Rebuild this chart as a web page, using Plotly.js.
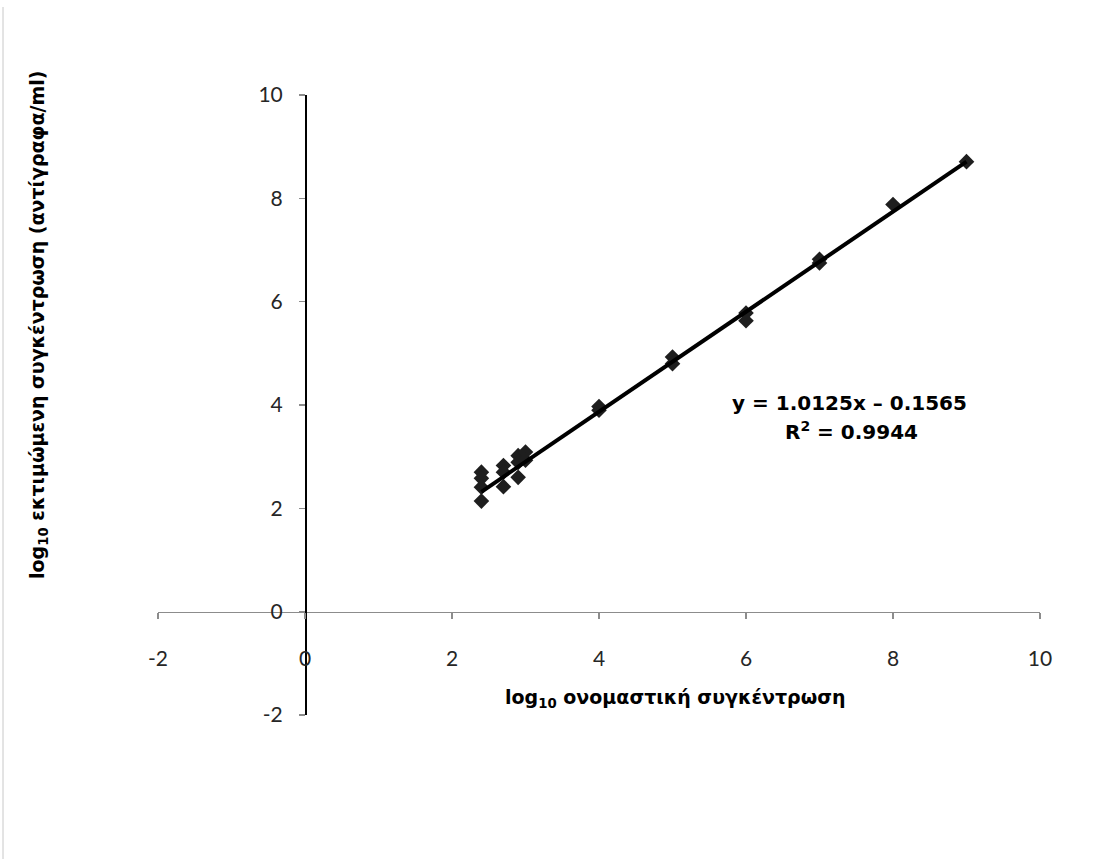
<!DOCTYPE html>
<html>
<head>
<meta charset="utf-8">
<script src="https://cdn.plot.ly/plotly-3.0.1.min.js"></script>
<style>html,body{margin:0;padding:0;background:#fff;}#chart{width:1108px;height:859px;}</style>
</head>
<body>
<div id="chart"></div>
<script>
// Data
const nominalLog = [2.4, 2.4, 2.4, 2.4, 2.7, 2.7, 2.7, 2.9, 2.9, 2.9, 3.0, 3.0, 4, 4, 5, 5, 6, 6, 7, 7, 8, 9];
const estimatedLog = [2.70, 2.58, 2.41, 2.14, 2.83, 2.70, 2.42, 3.02, 2.89, 2.60, 3.09, 2.93, 3.97, 3.90, 4.93, 4.80, 5.78, 5.63, 6.82, 6.75, 7.88, 8.71];
const trendX = [2.4, 9];
const trendY = [2.32, 8.71];
const tickVals = [-2, 0, 2, 4, 6, 8, 10];
const tickText = ["-2", "0", "2", "4", "6", "8", "10"];
const equationText = "y = 1.0125x – 0.1565";
const r2Text = "R<sup>2</sup> = 0.9944";
const xTitle = "log<sub>10</sub> ονομαστική συγκέντρωση";
const yTitle = "log<sub>10</sub> εκτιμώμενη συγκέντρωση (αντίγραφα/ml)";

const tickFont = {family: "Lato, 'Noto Sans', sans-serif", size: 21, color: "#262626"};
const boldFont = {family: "'DejaVu Sans', 'Liberation Sans', sans-serif", size: 19, color: "#000", weight: "bold"};
const eqFont = {family: "'DejaVu Sans', 'Liberation Sans', sans-serif", size: 20, color: "#000", weight: "bold"};

const traces = [
  {
    x: nominalLog, y: estimatedLog, type: "scatter", mode: "markers",
    marker: {symbol: "diamond", size: 12, color: "#1e1e1e"},
    hoverinfo: "x+y", showlegend: false
  },
  {
    x: trendX, y: trendY, type: "scatter", mode: "lines",
    line: {color: "#000", width: 4}, showlegend: false
  }
];

const layout = {
  width: 1108, height: 859,
  margin: {l: 158, r: 68, t: 95, b: 144},
  paper_bgcolor: "#fff", plot_bgcolor: "#fff",
  showlegend: false,
  xaxis: {
    range: [-2, 10], tickvals: tickVals, ticktext: tickText,
    anchor: "free", position: 2 / 12,
    showgrid: false, zeroline: false,
    showline: true, linecolor: "#8c8c8c", linewidth: 1.5,
    ticks: "outside", ticklen: 6, tickcolor: "#8c8c8c", tickwidth: 1.5,
    ticklabelstandoff: 22,
    tickfont: tickFont
  },
  yaxis: {
    range: [-2, 10], tickvals: tickVals, ticktext: tickText,
    anchor: "free", position: 2 / 12,
    showgrid: false, zeroline: false,
    showline: true, linecolor: "#000", linewidth: 1.5,
    ticks: "outside", ticklen: 6, tickcolor: "#8c8c8c", tickwidth: 1.5,
    ticklabelstandoff: 12,
    tickfont: tickFont
  },
  shapes: [
    {type: "line", xref: "paper", yref: "paper",
     x0: (3 - 158) / 882, x1: (3 - 158) / 882,
     y0: (715 - 7) / 620, y1: (715 - 859) / 620,
     line: {color: "#c8c8c8", width: 1}}
  ],
  annotations: [
    {text: xTitle, xref: "paper", yref: "paper",
     x: (675 - 158) / 882, y: (715 - 698) / 620,
     xanchor: "center", yanchor: "middle", showarrow: false, font: boldFont},
    {text: yTitle, xref: "paper", yref: "paper",
     x: (38 - 158) / 882, y: (715 - 325) / 620,
     xanchor: "center", yanchor: "middle", showarrow: false, textangle: -90, font: boldFont},
    {text: equationText, xref: "paper", yref: "paper",
     x: (849 - 158) / 882, y: (715 - 403) / 620,
     xanchor: "center", yanchor: "middle", showarrow: false, font: eqFont},
    {text: r2Text, xref: "paper", yref: "paper",
     x: (851 - 158) / 882, y: (715 - 431) / 620,
     xanchor: "center", yanchor: "middle", showarrow: false, font: eqFont}
  ]
};

Plotly.newPlot("chart", traces, layout, {displayModeBar: false, staticPlot: true});
</script>
</body>
</html>
